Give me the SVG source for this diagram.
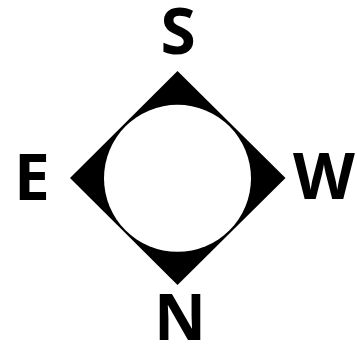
<svg xmlns="http://www.w3.org/2000/svg" width="357" height="350" viewBox="0 0 357 350">
<style>
.lbl{font-family:"Open Sans","Liberation Sans",sans-serif;font-weight:700;font-size:64px;fill:#000;text-anchor:middle}
</style>
<rect width="357" height="350" fill="#fff"/>
<g id="compass">
<polygon points="177.5,71 285.5,178 177.5,285 70,178" fill="#000"/>
<circle cx="177.5" cy="178.3" r="73.5" fill="#fff"/>
</g>
<g id="label-S"><text class="lbl" x="178" y="54">S</text></g>
<g id="label-E"><text class="lbl" x="32" y="200">E</text></g>
<g id="label-W"><text class="lbl" x="324" y="199">W</text></g>
<g id="label-N"><text class="lbl" x="180" y="340">N</text></g>
</svg>
